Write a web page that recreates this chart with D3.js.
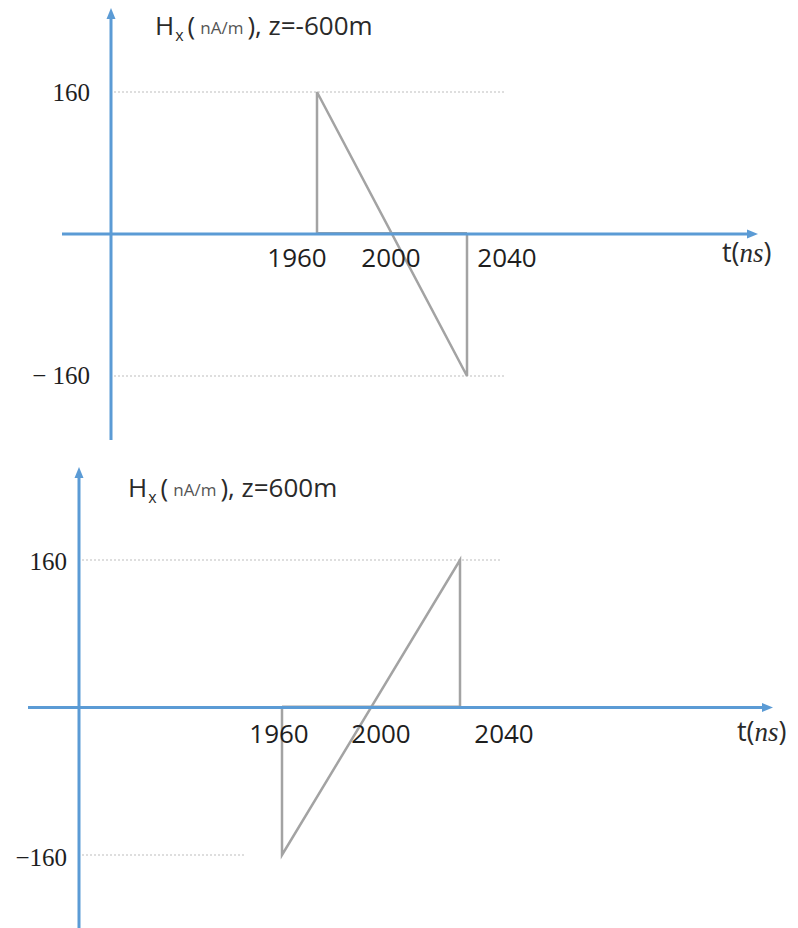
<!DOCTYPE html>
<html><head><meta charset="utf-8">
<script src="https://cdn.jsdelivr.net/npm/d3@7"></script>
<style>html,body{margin:0;padding:0;background:#fff;}svg{display:block;}</style>
</head><body>
<svg id="c" width="798" height="928"></svg>
<script>
// ---- data ----
const times = [1960, 1960, 2040, 2040];
const hxTop = [0, 160, -160, 0];      // z = -600 m
const hxBottom = [0, -160, 160, 0];   // z = 600 m
const xTickValues = [1960, 2000, 2040];
const yTickValues = [160, -160];
const yTickLabelsTop = ["160", "\u2212 160"];
const yTickLabelsBottom = ["160", "\u2212160"];
const titleTop = ", z=-600m";
const titleBottom = ", z=600m";

const svg = d3.select("#c");
const AXIS = "#5b9bd5", WAVE = "#a3a3a3", GRID = "#bdbdbd";

const panels = [
  { values: hxTop, tickLabels: yTickLabelsTop, title: titleTop,
    xRange: [317, 467], yRange: [376, 92],
    xAxisFrom: 62, xAxisTo: 758, yAxisX: 111, yAxisFrom: 440, yAxisTo: 8,
    gridTo: [505, 504], tickLabelY: 267, tickDx: [-20, -1, 40],
    yLabelRight: 90, yLabelDy: [9, 8],
    titleX: 155, titleY: 35, unitX: 722, unitY: 262 },
  { values: hxBottom, tickLabels: yTickLabelsBottom, title: titleBottom,
    xRange: [282, 460], yRange: [855, 560],
    xAxisFrom: 28, xAxisTo: 773, yAxisX: 79, yAxisFrom: 928, yAxisTo: 467,
    gridTo: [500, 246], tickLabelY: 743, tickDx: [-3, 10, 44],
    yLabelRight: 67, yLabelDy: [10, 11],
    titleX: 128, titleY: 497, unitX: 737, unitY: 741 }
];

function arrow(g, x1, y1, x2, y2) {
  const ang = Math.atan2(y2 - y1, x2 - x1);
  const L = 11, W = 4.5;
  const bx = x2 - L * Math.cos(ang), by = y2 - L * Math.sin(ang);
  const px = -Math.sin(ang) * W, py = Math.cos(ang) * W;
  g.append("line").attr("x1", x1).attr("y1", y1).attr("x2", bx).attr("y2", by)
    .attr("stroke", AXIS).attr("stroke-width", 3);
  g.append("path").attr("d", `M${x2},${y2}L${bx+px},${by+py}L${bx-px},${by-py}Z`)
    .attr("fill", AXIS);
}

panels.forEach(p => {
  const g = svg.append("g");
  const x = d3.scaleLinear().domain([1960, 2040]).range(p.xRange);
  const y = d3.scaleLinear().domain([-160, 160]).range(p.yRange);
  const y0 = y(0);

  // dotted gridlines
  yTickValues.forEach((v, i) => {
    g.append("line").attr("x1", p.yAxisX + 3).attr("x2", p.gridTo[i])
      .attr("y1", y(v)).attr("y2", y(v))
      .attr("stroke", GRID).attr("stroke-width", 1).attr("stroke-dasharray", "2,2");
  });

  // waveform (gray)
  const pts = times.map((t, i) => [t, p.values[i]]);
  g.append("path").datum(pts)
    .attr("d", d3.line().x(d => x(d[0])).y(d => y(d[1])))
    .attr("fill", "none").attr("stroke", WAVE).attr("stroke-width", 2.5)
    .attr("stroke-linejoin", "miter");
  g.append("line").attr("x1", x(1960)).attr("x2", x(2040)).attr("y1", y0 - 1).attr("y2", y0 - 1)
    .attr("stroke", WAVE).attr("stroke-width", 2);

  // axes
  arrow(g, p.xAxisFrom, y0, p.xAxisTo, y0);
  arrow(g, p.yAxisX, p.yAxisFrom, p.yAxisX, p.yAxisTo);

  // x tick labels
  xTickValues.forEach((v, i) => {
    g.append("text").attr("x", x(v) + p.tickDx[i]).attr("y", p.tickLabelY)
      .attr("text-anchor", "middle").attr("font-family", "Open Sans")
      .attr("font-size", 26).attr("font-weight", 500).attr("fill", "#1e1e1e").text(v);
  });

  // y tick labels
  yTickValues.forEach((v, i) => {
    g.append("text").attr("x", p.yLabelRight).attr("y", y(v) + p.yLabelDy[i])
      .attr("text-anchor", "end").attr("font-family", "Liberation Serif")
      .attr("font-size", 25).attr("fill", "#1e1e1e").text(p.tickLabels[i]);
  });

  // title
  const t = g.append("text").attr("x", p.titleX).attr("y", p.titleY)
    .attr("font-family", "Open Sans").attr("font-size", 26).attr("font-weight", 500).attr("fill", "#2a2a2a");
  t.append("tspan").text("H");
  t.append("tspan").attr("font-size", 16).attr("dy", 6).attr("dx", 1).text("x");
  t.append("tspan").attr("dy", -6).attr("dx", 4).text("(");
  t.append("tspan").attr("font-size", 17).attr("font-weight", 400).attr("fill", "#555").attr("dx", 5).attr("dy", -1).text("nA/m");
  t.append("tspan").attr("dx", 4).attr("dy", 1).text(")");
  t.append("tspan").text(p.title);

  // t(ns)
  const u = g.append("text").attr("x", p.unitX).attr("y", p.unitY)
    .attr("font-family", "Open Sans").attr("font-size", 27).attr("font-weight", 500).attr("fill", "#2a2a2a");
  u.append("tspan").text("t(");
  u.append("tspan").attr("font-family", "Liberation Serif").attr("font-style", "italic").text("ns");
  u.append("tspan").text(")");
});
</script>
</body></html>
